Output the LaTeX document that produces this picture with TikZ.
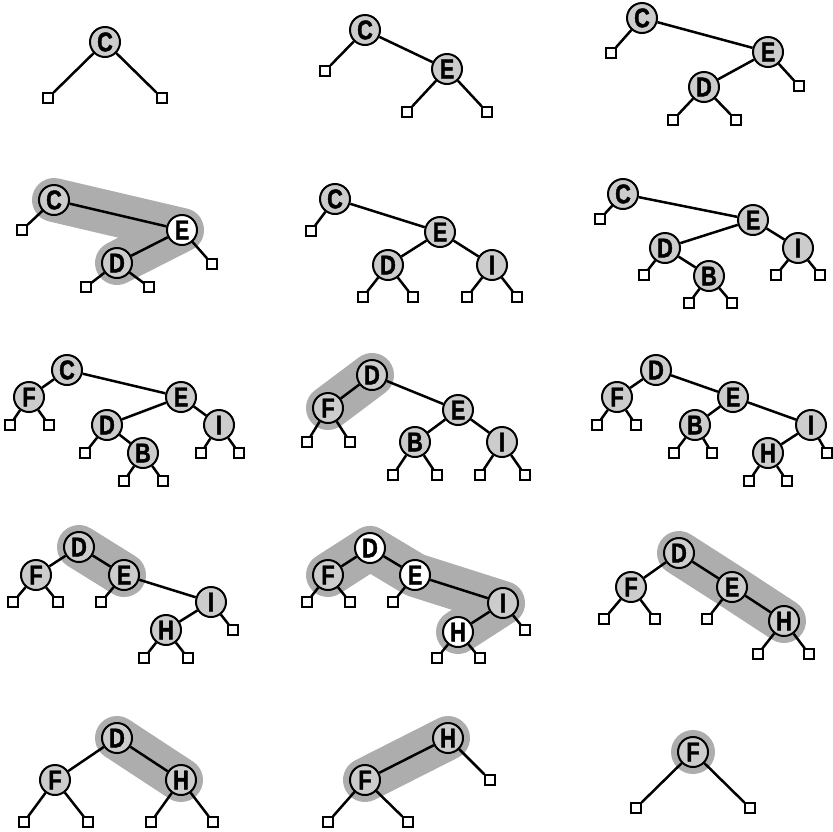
\documentclass[tikz,border=0pt]{standalone}
\usepackage{fontspec}
\setmainfont{Liberation Sans}
\newfontfamily\knotfont[FakeStretch=0.8, FakeBold=1.6]{Liberation Sans Bold}
\usetikzlibrary{backgrounds}
\tikzset{
  knot/.style={circle, draw, line width=2pt, fill=black!20, minimum size=30pt,
    inner sep=0pt, font=\knotfont\fontsize{27}{27}\selectfont},
  hot/.style={knot, fill=white},
  leaf/.style={rectangle, draw, line width=1.8pt, fill=white, minimum size=9.5pt, inner sep=0pt},
  link/.style={line width=2.5pt},
  band/.style={line width=44pt, black!32, line cap=round, line join=round},
}
\begin{document}
\begin{tikzpicture}[x=1pt, y=-1pt]
\useasboundingbox (0,0) rectangle (833,831);
% erste Reihe
\node[knot] (C1) at (105,42) {C};
\node[leaf] (C1l) at (48,98) {};
\node[leaf] (C1r) at (162,98) {};
\draw[link] (C1) -- (C1l) (C1) -- (C1r);

\node[knot] (C2) at (365,30) {C};
\node[knot] (E2) at (447,69) {E};
\node[leaf] (C2l) at (325,71) {};
\node[leaf] (E2l) at (407,112) {};
\node[leaf] (E2r) at (487,112) {};
\draw[link] (C2) -- (C2l) (C2) -- (E2) (E2) -- (E2l) (E2) -- (E2r);

\node[knot] (C3) at (642,18) {C};
\node[knot] (E3) at (768,52) {E};
\node[knot] (D3) at (704,87) {D};
\node[leaf] (C3l) at (611,53) {};
\node[leaf] (E3r) at (799,86) {};
\node[leaf] (D3l) at (673,120) {};
\node[leaf] (D3r) at (736,120) {};
\draw[link] (C3) -- (C3l) (C3) -- (E3) (E3) -- (D3) (E3) -- (E3r)
  (D3) -- (D3l) (D3) -- (D3r);

% zweite Reihe
\node[knot] (C4) at (54,200) {C};
\node[hot] (E4) at (182,230) {E};
\node[knot] (D4) at (117,263) {D};
\node[leaf] (C4l) at (22,230) {};
\node[leaf] (E4r) at (212,264) {};
\node[leaf] (D4l) at (86,287) {};
\node[leaf] (D4r) at (149,287) {};
\draw[link] (C4) -- (C4l) (C4) -- (E4) (E4) -- (D4) (E4) -- (E4r)
  (D4) -- (D4l) (D4) -- (D4r);
\begin{scope}[on background layer]
\draw[band] (C4.center) -- (E4.center) -- (D4.center);
\end{scope}

\node[knot] (C5) at (335,199) {C};
\node[knot] (E5) at (440,232) {E};
\node[knot] (D5) at (388,265) {D};
\node[knot] (I5) at (492,265) {I};
\node[leaf] (C5l) at (311,231) {};
\node[leaf] (D5l) at (363,297) {};
\node[leaf] (D5r) at (413,297) {};
\node[leaf] (I5l) at (467,297) {};
\node[leaf] (I5r) at (517,297) {};
\draw[link] (C5) -- (C5l) (C5) -- (E5) (E5) -- (D5) (E5) -- (I5)
  (D5) -- (D5l) (D5) -- (D5r) (I5) -- (I5l) (I5) -- (I5r);

\node[knot] (C6) at (623,194) {C};
\node[knot] (E6) at (753,220) {E};
\node[knot] (D6) at (665,248) {D};
\node[knot] (B6) at (709,276) {B};
\node[knot] (I6) at (798,248) {I};
\node[leaf] (C6l) at (600,219) {};
\node[leaf] (D6l) at (644,275) {};
\node[leaf] (B6l) at (689,303) {};
\node[leaf] (B6r) at (732,303) {};
\node[leaf] (I6l) at (776,275) {};
\node[leaf] (I6r) at (820,275) {};
\draw[link] (C6) -- (C6l) (C6) -- (E6) (E6) -- (D6) (E6) -- (I6)
  (D6) -- (D6l) (D6) -- (B6) (B6) -- (B6l) (B6) -- (B6r)
  (I6) -- (I6l) (I6) -- (I6r);

% dritte Reihe
\node[knot] (C7) at (67,370) {C};
\node[knot] (F7) at (29,397) {F};
\node[knot] (E7) at (181,397) {E};
\node[knot] (D7) at (107,425) {D};
\node[knot] (B7) at (143,453) {B};
\node[knot] (I7) at (219,425) {I};
\node[leaf] (F7l) at (10,425) {};
\node[leaf] (F7r) at (49,425) {};
\node[leaf] (D7l) at (85,453) {};
\node[leaf] (B7l) at (124,481) {};
\node[leaf] (B7r) at (163,481) {};
\node[leaf] (I7l) at (201,453) {};
\node[leaf] (I7r) at (239,453) {};
\draw[link] (C7) -- (F7) (C7) -- (E7) (F7) -- (F7l) (F7) -- (F7r)
  (E7) -- (D7) (E7) -- (I7) (D7) -- (D7l) (D7) -- (B7)
  (B7) -- (B7l) (B7) -- (B7r) (I7) -- (I7l) (I7) -- (I7r);

\node[knot] (D8) at (372,375) {D};
\node[knot] (F8) at (328,408) {F};
\node[knot] (E8) at (458,410) {E};
\node[knot] (B8) at (415,442) {B};
\node[knot] (I8) at (502,442) {I};
\node[leaf] (F8l) at (307,442) {};
\node[leaf] (F8r) at (350,442) {};
\node[leaf] (B8l) at (393,475) {};
\node[leaf] (B8r) at (437,475) {};
\node[leaf] (I8l) at (480,475) {};
\node[leaf] (I8r) at (525,475) {};
\draw[link] (D8) -- (F8) (D8) -- (E8) (F8) -- (F8l) (F8) -- (F8r)
  (E8) -- (B8) (E8) -- (I8) (B8) -- (B8l) (B8) -- (B8r)
  (I8) -- (I8l) (I8) -- (I8r);
\begin{scope}[on background layer]
\draw[band] (F8.center) -- (D8.center);
\end{scope}

\node[knot] (D9) at (656,370) {D};
\node[knot] (F9) at (617,397) {F};
\node[knot] (E9) at (733,397) {E};
\node[knot] (B9) at (695,425) {B};
\node[knot] (I9) at (811,425) {I};
\node[knot] (H9) at (768,453) {H};
\node[leaf] (F9l) at (597,425) {};
\node[leaf] (F9r) at (636,425) {};
\node[leaf] (B9l) at (674,453) {};
\node[leaf] (B9r) at (712,453) {};
\node[leaf] (I9r) at (827,453) {};
\node[leaf] (H9l) at (749,481) {};
\node[leaf] (H9r) at (787,481) {};
\draw[link] (D9) -- (F9) (D9) -- (E9) (F9) -- (F9l) (F9) -- (F9r)
  (E9) -- (B9) (E9) -- (I9) (B9) -- (B9l) (B9) -- (B9r)
  (I9) -- (H9) (I9) -- (I9r) (H9) -- (H9l) (H9) -- (H9r);

% vierte Reihe
\node[knot] (D10) at (79,547) {D};
\node[knot] (F10) at (36,575) {F};
\node[knot] (E10) at (124,575) {E};
\node[knot] (I10) at (211,602) {I};
\node[knot] (H10) at (166,630) {H};
\node[leaf] (F10l) at (13,602) {};
\node[leaf] (F10r) at (58,602) {};
\node[leaf] (E10l) at (101,602) {};
\node[leaf] (I10r) at (233,630) {};
\node[leaf] (H10l) at (144,658) {};
\node[leaf] (H10r) at (188,658) {};
\draw[link] (D10) -- (F10) (D10) -- (E10) (F10) -- (F10l) (F10) -- (F10r)
  (E10) -- (E10l) (E10) -- (I10) (I10) -- (H10) (I10) -- (I10r)
  (H10) -- (H10l) (H10) -- (H10r);
\begin{scope}[on background layer]
\draw[band] (D10.center) -- (E10.center);
\end{scope}

\node[hot] (D11) at (370,548) {D};
\node[knot] (F11) at (328,575) {F};
\node[hot] (E11) at (415,575) {E};
\node[knot] (I11) at (503,603) {I};
\node[hot] (H11) at (458,632) {H};
\node[leaf] (F11l) at (307,602) {};
\node[leaf] (F11r) at (350,602) {};
\node[leaf] (E11l) at (393,602) {};
\node[leaf] (I11r) at (525,630) {};
\node[leaf] (H11l) at (437,658) {};
\node[leaf] (H11r) at (480,658) {};
\draw[link] (D11) -- (F11) (D11) -- (E11) (F11) -- (F11l) (F11) -- (F11r)
  (E11) -- (E11l) (E11) -- (I11) (I11) -- (H11) (I11) -- (I11r)
  (H11) -- (H11l) (H11) -- (H11r);
\begin{scope}[on background layer]
\draw[band] (F11.center) -- (D11.center) -- (E11.center) -- (I11.center) -- (H11.center);
\end{scope}

\node[knot] (D12) at (679,553) {D};
\node[knot] (F12) at (631,587) {F};
\node[knot] (E12) at (732,587) {E};
\node[knot] (H12) at (784,621) {H};
\node[leaf] (F12l) at (604,619) {};
\node[leaf] (F12r) at (655,619) {};
\node[leaf] (E12l) at (707,619) {};
\node[leaf] (H12l) at (758,654) {};
\node[leaf] (H12r) at (809,654) {};
\draw[link] (D12) -- (F12) (D12) -- (E12) (F12) -- (F12l) (F12) -- (F12r)
  (E12) -- (E12l) (E12) -- (H12) (H12) -- (H12l) (H12) -- (H12r);
\begin{scope}[on background layer]
\draw[band] (D12.center) -- (E12.center) -- (H12.center);
\end{scope}

% fuenfte Reihe
\node[knot] (D13) at (117,738) {D};
\node[knot] (F13) at (55,780) {F};
\node[knot] (H13) at (181,780) {H};
\node[leaf] (F13l) at (24,822) {};
\node[leaf] (F13r) at (88,822) {};
\node[leaf] (H13l) at (151,822) {};
\node[leaf] (H13r) at (213,822) {};
\draw[link] (D13) -- (F13) (D13) -- (H13) (F13) -- (F13l) (F13) -- (F13r)
  (H13) -- (H13l) (H13) -- (H13r);
\begin{scope}[on background layer]
\draw[band] (D13.center) -- (H13.center);
\end{scope}

\node[knot] (H14) at (448,738) {H};
\node[knot] (F14) at (365,780) {F};
\node[leaf] (H14r) at (490,780) {};
\node[leaf] (F14l) at (328,822) {};
\node[leaf] (F14r) at (408,822) {};
\draw[link] (H14) -- (F14) (H14) -- (H14r) (F14) -- (F14l) (F14) -- (F14r);
\begin{scope}[on background layer]
\draw[band] (F14.center) -- (H14.center);
\end{scope}

\node[knot] (F15) at (693,752) {F};
\node[leaf] (F15l) at (636,808) {};
\node[leaf] (F15r) at (750,808) {};
\draw[link] (F15) -- (F15l) (F15) -- (F15r);
\begin{scope}[on background layer]
\fill[black!32] (F15.center) circle (22);
\end{scope}
\end{tikzpicture}
\end{document}
